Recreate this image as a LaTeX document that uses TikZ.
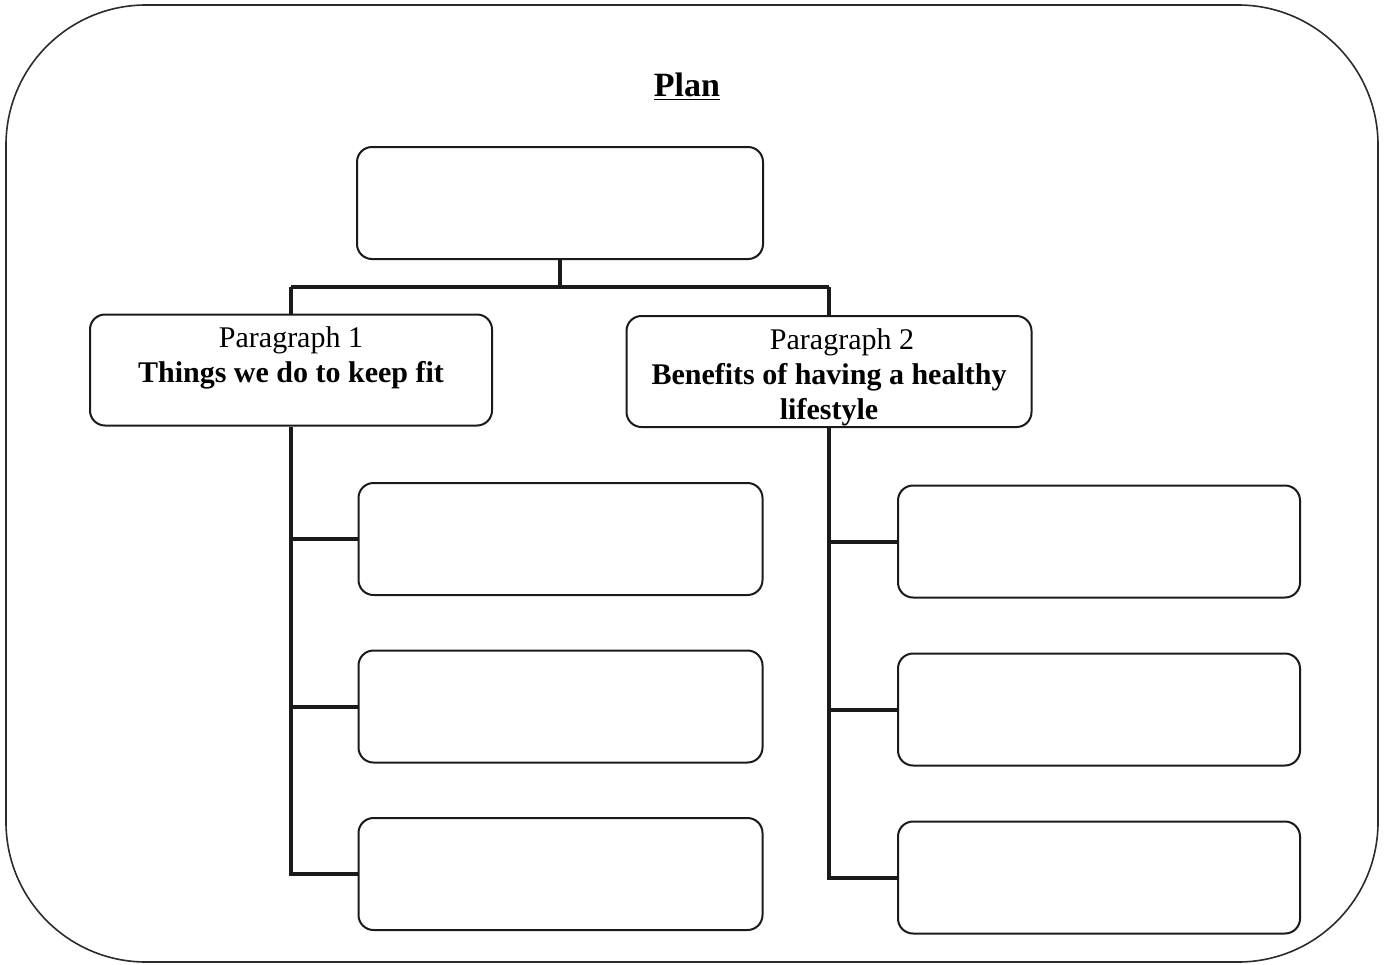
\documentclass[tikz,border=0pt]{standalone}
\usepackage{fontspec}
\setmainfont{Liberation Serif}
\usepackage{xcolor}
\usetikzlibrary{positioning}
\definecolor{lineColor}{HTML}{1A1A1A}
\definecolor{frameColor}{HTML}{2B2B2B}
\tikzset{
  planbox/.style={draw=lineColor, line width=1pt, rounded corners=7.5pt,
    minimum width=202pt, minimum height=56pt, inner sep=0pt},
  paratext/.style={anchor=north, yshift=-6.5pt, inner sep=0pt, align=center,
    font=\fontsize{15}{17.5}\selectfont},
  branch/.style={draw=lineColor, line width=2pt}
}

\begin{document}
\begin{tikzpicture}[x=0.5pt,y=-0.5pt]
\useasboundingbox (0, 0) rectangle (1385, 964);

% frame
\draw[color=frameColor, line width=0.8pt, rounded corners=70pt]
(6, 5) rectangle (1378, 962);

% title
\node[font=\fontsize{17}{20}\selectfont\bfseries] (plan) at (687, 87) {\underline{Plan}};

% boxes layer
\begin{scope}
\node[planbox, minimum width=203pt] (top) at (560, 203) {};
\node[planbox, minimum width=201pt, minimum height=55.5pt,
label={[paratext]north:Paragraph 1\\\textbf{Things we do to keep fit}}] (para1) at (291, 370) {};
\node[planbox, minimum width=202.5pt, minimum height=55.5pt,
label={[paratext]north:\hspace*{13pt}Paragraph 2\\\textbf{Benefits of having a healthy}\\\textbf{lifestyle}}] (para2) at (829, 371.5) {};
\node[planbox] (leftA) at (560.5, 539) {};
\node[planbox] (leftB) at (560.5, 706.5) {};
\node[planbox] (leftC) at (560.5, 874) {};
\node[planbox, minimum width=201pt] (rightA) at (1099, 541.5) {};
\node[planbox, minimum width=201pt] (rightB) at (1099, 709.5) {};
\node[planbox, minimum width=201pt] (rightC) at (1099, 877.5) {};
\end{scope}

% link layer
\begin{scope}
\coordinate (fork) at (560, 287);
\draw[branch] (top.south) -- (fork);
\draw[branch] (fork -| para1.north) -- (fork -| para2.north);
\draw[branch] (fork -| para1.north) -- (para1.north);
\draw[branch] (fork -| para2.north) -- (para2.north);
\draw[branch] (para1.south) -- (para1.south |- leftC.west) -- (leftC.west);
\draw[branch] (para1.south |- leftA.west) -- (leftA.west);
\draw[branch] (para1.south |- leftB.west) -- (leftB.west);
\draw[branch] (para2.south) -- (para2.south |- rightC.west) -- (rightC.west);
\draw[branch] (para2.south |- rightA.west) -- (rightA.west);
\draw[branch] (para2.south |- rightB.west) -- (rightB.west);
\end{scope}

\end{tikzpicture}
\end{document}
